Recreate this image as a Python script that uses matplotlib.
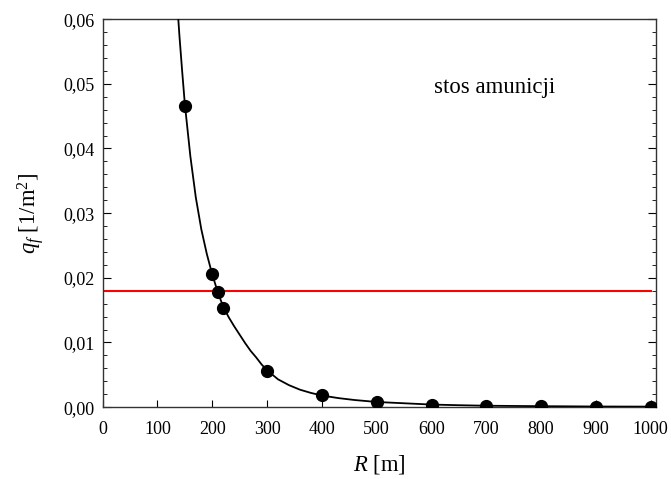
import matplotlib
matplotlib.use("Agg")
import matplotlib.pyplot as plt
from matplotlib.ticker import MultipleLocator, FuncFormatter

plt.rcParams['font.family'] = ['Liberation Serif', 'DejaVu Serif']
plt.rcParams['mathtext.fontset'] = 'custom'
plt.rcParams['mathtext.rm'] = 'Liberation Serif'
plt.rcParams['mathtext.it'] = 'Liberation Serif:italic'

# measured points
R_pts = [150, 200, 210, 220, 300, 400, 500, 600, 700, 800, 900, 1000]
q_pts = [0.0466, 0.0206, 0.0178, 0.0154, 0.0056, 0.0019, 0.0008, 0.0004,
         0.0002, 0.00015, 0.0001, 0.0001]

# fitted curve
R_curve = [135, 138, 140, 145, 150, 160, 170, 180, 190, 200, 210, 220, 230, 240,
           250, 260, 270, 280, 290, 300, 320, 340, 360, 380, 400, 430, 460, 500,
           550, 600, 650, 700, 800, 900, 1000]
q_curve = [0.0650, 0.0600, 0.0575, 0.0520, 0.0468, 0.0388, 0.0324, 0.0275, 0.0237,
           0.0205, 0.0178, 0.0155, 0.0139, 0.0125, 0.0112, 0.0099, 0.0087, 0.0077,
           0.0066, 0.0057, 0.0043, 0.0034, 0.0027, 0.0022, 0.0018, 0.0014, 0.0011,
           0.0008, 0.0006, 0.0004, 0.0003, 0.00022, 0.00015, 0.0001, 0.00008]

threshold = 0.018
R_thr = [0, 1000]

fig = plt.figure(figsize=(6.71, 4.79), dpi=100)
ax = fig.add_axes([0.153, 0.150, 0.825, 0.810])

ax.plot(R_curve, q_curve, color='black', lw=1.3, zorder=3)
ax.plot(R_pts, q_pts, 'o', color='black', ms=8.5, zorder=4)
ax.plot(R_thr, [threshold, threshold], color='red', lw=1.5, zorder=2)

ax.set_xlim(0, 1010)
ax.set_ylim(0, 0.06)
ax.xaxis.set_major_locator(MultipleLocator(100))
ax.yaxis.set_major_locator(MultipleLocator(0.01))
ax.yaxis.set_minor_locator(MultipleLocator(0.002))
ax.yaxis.set_major_formatter(FuncFormatter(lambda v, p: f"{v:.2f}".replace('.', ',')))
ax.tick_params(axis='both', which='both', direction='in', labelsize=13)
ax.tick_params(axis='x', which='major', length=5, top=False, pad=10)
ax.tick_params(axis='y', which='major', length=6, right=True, pad=6)
ax.tick_params(axis='y', which='minor', length=3, right=True)
for s in ax.spines.values():
    s.set_color('#333333')
    s.set_linewidth(1.0)

ax.set_xlabel(r'$R$ [m]', fontsize=16.3, labelpad=11)
ax.set_ylabel(r'$q_f$ [1/m$^2$]', fontsize=16.3, labelpad=12)
ax.text(715, 0.0494, 'stos amunicji', fontsize=16.4, ha='center', va='center')

fig.savefig('out.png', dpi=100)
